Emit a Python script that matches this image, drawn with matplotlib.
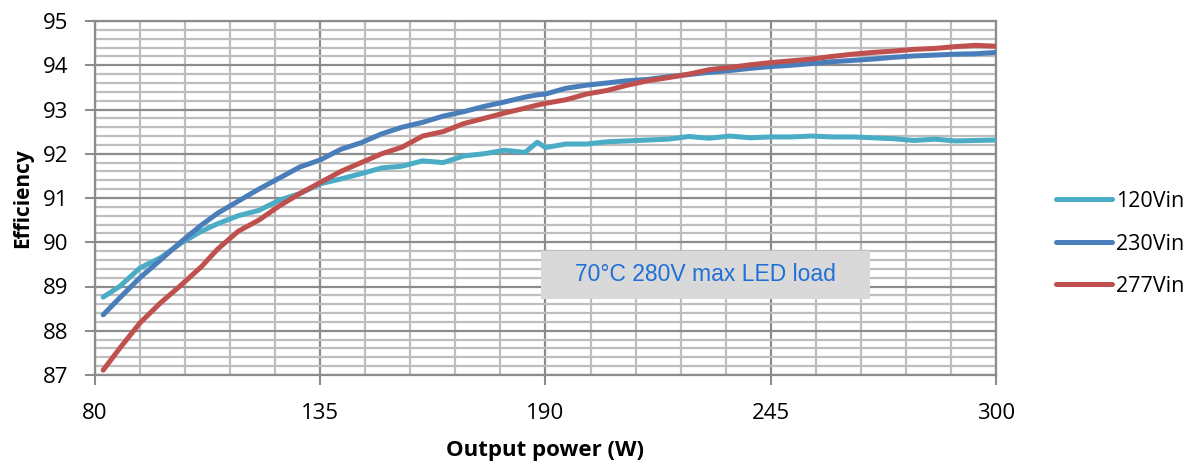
import matplotlib
matplotlib.use("Agg")
import numpy as np
import matplotlib.pyplot as plt
from matplotlib.patches import Rectangle
from matplotlib.ticker import FixedLocator

power = [82, 86, 91, 96, 101, 106, 110, 115, 120, 125, 130, 135, 140, 145, 150,
         155, 160, 165, 170, 175, 180, 185, 188, 190, 195, 200, 205, 210, 215, 220,
         225, 230, 235, 240, 245, 250, 255, 260, 265, 270, 275, 280, 285, 290, 295, 300]

eff_120 = [88.76, 89.00, 89.42, 89.65, 89.98, 90.25, 90.42, 90.60, 90.72, 90.95,
           91.10, 91.32, 91.43, 91.55, 91.68, 91.72, 91.84, 91.80, 91.95, 92.00,
           92.08, 92.03, 92.26, 92.14, 92.22, 92.22, 92.27, 92.29, 92.31, 92.33,
           92.39, 92.35, 92.40, 92.36, 92.38, 92.38, 92.40, 92.38, 92.38, 92.36,
           92.34, 92.30, 92.33, 92.29, 92.30, 92.31]
eff_230 = [88.36, 88.74, 89.20, 89.60, 90.01, 90.39, 90.66, 90.93, 91.20, 91.45,
           91.70, 91.86, 92.10, 92.25, 92.45, 92.60, 92.71, 92.85, 92.95, 93.07,
           93.17, 93.28, 93.33, 93.35, 93.48, 93.55, 93.60, 93.65, 93.68, 93.74,
           93.79, 93.84, 93.88, 93.93, 93.97, 94.00, 94.04, 94.08, 94.11, 94.14,
           94.18, 94.21, 94.23, 94.25, 94.26, 94.29]
eff_277 = [87.11, 87.60, 88.18, 88.63, 89.03, 89.45, 89.85, 90.25, 90.50, 90.82,
           91.10, 91.35, 91.60, 91.80, 92.00, 92.15, 92.40, 92.50, 92.68, 92.80,
           92.92, 93.03, 93.10, 93.14, 93.22, 93.35, 93.43, 93.55, 93.65, 93.72,
           93.80, 93.90, 93.95, 94.01, 94.06, 94.10, 94.14, 94.20, 94.25, 94.29,
           94.32, 94.36, 94.38, 94.42, 94.45, 94.43]

series_labels = ["120Vin", "230Vin", "277Vin"]
series_colors = ["#4BACC6", "#4A7EBB", "#C0504D"]
x_ticks = [80, 135, 190, 245, 300]
y_ticks = [87, 88, 89, 90, 91, 92, 93, 94, 95]

fig = plt.figure(figsize=(11.94, 4.68), dpi=100)
ax = fig.add_axes([95/1194, 1-375/468, (996-95)/1194, (375-21)/468])

ax.set_xlim(80, 300)
ax.set_ylim(87, 95)
ax.set_xticks(x_ticks)
ax.set_yticks(y_ticks)
xminor = [v for v in np.arange(80, 300.1, 11) if round(v) not in x_ticks]
yminor = [round(v, 1) for v in np.arange(87, 95.01, 0.2) if abs(v - round(v)) > 0.01]
ax.xaxis.set_minor_locator(FixedLocator(xminor))
ax.yaxis.set_minor_locator(FixedLocator(yminor))
ax.grid(which="minor", color="#BEBEBE", linewidth=1.6, zorder=0)
ax.grid(which="major", color="#8C8C8C", linewidth=1.6, zorder=0)
ax.set_axisbelow(True)

for s in ax.spines.values():
    s.set_color("#8C8C8C")
    s.set_linewidth(1.6)

ax.tick_params(which="major", direction="out", length=7, width=1.5, color="#8C8C8C",
               labelsize=16, labelcolor="black")
ax.tick_params(which="minor", length=0)
ax.tick_params(axis="x", pad=13)
ax.tick_params(axis="y", pad=12)
for lab in ax.get_xticklabels() + ax.get_yticklabels():
    lab.set_fontfamily("Open Sans")

for vals, lab, col in zip([eff_120, eff_230, eff_277], series_labels, series_colors):
    ax.plot(power, vals, color=col, linewidth=3.6, label=lab, solid_capstyle="round",
            solid_joinstyle="round", zorder=3)

ax.set_xlabel("Output power (W)", fontsize=16, fontweight="bold", family="Open Sans",
              labelpad=12)
ax.set_ylabel("Efficiency", fontsize=15, fontweight="bold", family="Open Sans",
              labelpad=7)

ax.add_patch(Rectangle((0.495, 0.215), 0.365, 0.135, transform=ax.transAxes,
                       facecolor="#D9D9D9", edgecolor="none", zorder=4))
ax.text(0.6775, 0.2825, "70°C 280V max LED load", transform=ax.transAxes,
        ha="center", va="center", fontsize=16.5, color="#1F6FD8",
        family="Liberation Sans", zorder=5)

leg = ax.legend(loc="center left", bbox_to_anchor=(1037/1194, 1-244/468),
                bbox_transform=fig.transFigure, frameon=False,
                prop={"family": "Open Sans", "size": 15.5},
                handlelength=2.6, handletextpad=0.15, labelspacing=1.0)

fig.savefig("out.png", dpi=100)
